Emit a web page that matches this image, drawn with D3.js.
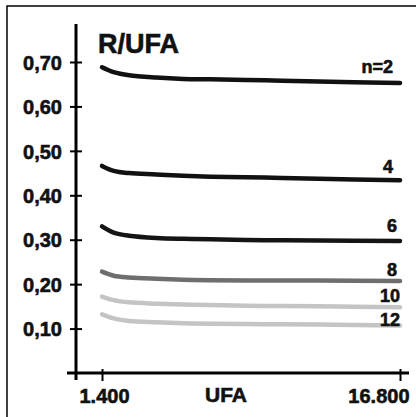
<!DOCTYPE html>
<html><head><meta charset="utf-8">
<script src="https://cdn.jsdelivr.net/npm/d3@7"></script>
<style>
html,body{margin:0;padding:0;background:#fff;}
svg{display:block;font-family:"Liberation Sans",Arial,Helvetica,sans-serif;font-weight:bold;}
svg text{stroke:#111;stroke-width:0.6px;paint-order:stroke;}
</style></head><body>
<svg id="c" width="416" height="417"></svg>
<script>
// UFA values (x)
const ufa = [1400, 2000, 2800, 4200, 5600, 7000, 9800, 12600, 16800];
// series names
const seriesNames = ["n=2", "4", "6", "8", "10", "12"];
// R/UFA values per series
const n2  = [0.688, 0.677, 0.670, 0.665, 0.662, 0.661, 0.659, 0.656, 0.653];
const n4  = [0.466, 0.455, 0.450, 0.447, 0.444, 0.442, 0.440, 0.437, 0.434];
const n6  = [0.330, 0.316, 0.309, 0.304, 0.302, 0.301, 0.299, 0.298, 0.297];
const n8  = [0.228, 0.219, 0.215, 0.212, 0.210, 0.209, 0.208, 0.208, 0.207];
const n10 = [0.172, 0.164, 0.159, 0.156, 0.154, 0.153, 0.151, 0.150, 0.148];
const n12 = [0.132, 0.123, 0.117, 0.114, 0.112, 0.111, 0.110, 0.109, 0.107];
const yTicks = [0.10, 0.20, 0.30, 0.40, 0.50, 0.60, 0.70];
const xTickLabels = ["1.400", "16.800"];
const xTicks = [1400, 16800];

const seriesValues = [n2, n4, n6, n8, n10, n12];
const colors = ["#111", "#111", "#141414", "#6e6e6e", "#c4c4c4", "#c4c4c4"];
const labelDx = [-7, -7, -3, -3, 0, 0];
const labelDy = [-10, -7, -9, -5, -5, 1];

const svg = d3.select("#c");
// frame
svg.append("rect").attr("x", 7).attr("y", 6).attr("width", 420).attr("height", 420)
  .attr("fill", "none").attr("stroke", "#000").attr("stroke-width", 1.5);

const x = d3.scaleLinear().domain([1400, 16800]).range([102, 400]);
const y = d3.scaleLinear().domain([0, 0.7]).range([373, 62]);

// axes lines
svg.append("line").attr("x1", 76).attr("x2", 76).attr("y1", 24).attr("y2", 380)
  .attr("stroke", "#000").attr("stroke-width", 3);
svg.append("line").attr("x1", 67).attr("x2", 409).attr("y1", 373).attr("y2", 373)
  .attr("stroke", "#000").attr("stroke-width", 3);

// y axis via d3
const yAxis = d3.axisLeft(y).tickValues(yTicks).tickSizeInner(6).tickSizeOuter(0)
  .tickFormat(d => d3.format(".2f")(d).replace(".", ","));
const gy = svg.append("g").attr("transform", "translate(76,0)").call(yAxis);
gy.select(".domain").remove();
gy.selectAll(".tick line").attr("x1", -6).attr("x2", 6).attr("stroke", "#000").attr("stroke-width", 2);
gy.selectAll(".tick text").attr("x", -14).attr("dy", "0.36em")
  .style("font-size", "20px").style("font-weight", "bold").style("font-family", "'Liberation Sans',Arial,sans-serif")
  .attr("fill", "#111");

// x axis via d3
const xAxis = d3.axisBottom(x).tickValues(xTicks).tickSizeInner(6).tickSizeOuter(0)
  .tickFormat((d, i) => xTickLabels[i]);
const gx = svg.append("g").attr("transform", "translate(0,373)").call(xAxis);
gx.select(".domain").remove();
gx.selectAll(".tick line").attr("y1", -4).attr("y2", 8).attr("stroke", "#000").attr("stroke-width", 2);
gx.selectAll(".tick text").attr("y", 30).attr("dy", 0)
  .style("font-size", "20px").style("font-weight", "bold").style("font-family", "'Liberation Sans',Arial,sans-serif")
  .attr("fill", "#111")
  .attr("text-anchor", (d, i) => i === 0 ? "middle" : "end")
  .attr("dx", (d, i) => i === 0 ? 2 : 9);

// axis title
svg.append("text").attr("x", 226).attr("y", 402).attr("text-anchor", "middle")
  .style("font-size", "21px").attr("fill", "#111").text("UFA");

// chart title
svg.append("text").attr("x", 98).attr("y", 53)
  .style("font-size", "27px").attr("fill", "#111").text("R/UFA");

// lines
const line = d3.line().x((d, i) => x(ufa[i])).y(d => y(d)).curve(d3.curveCatmullRom.alpha(0.5));
seriesValues.forEach((vals, k) => {
  svg.append("path").attr("d", line(vals)).attr("fill", "none")
    .attr("stroke", colors[k]).attr("stroke-width", 4.5)
    .attr("stroke-linecap", "round").attr("stroke-linejoin", "round");
  svg.append("text")
    .attr("x", x(ufa[ufa.length - 1]) + labelDx[k])
    .attr("y", y(vals[vals.length - 1]) + labelDy[k])
    .attr("text-anchor", "end").style("font-size", "18px").attr("fill", "#111")
    .text(seriesNames[k]);
});
</script>
</body></html>
